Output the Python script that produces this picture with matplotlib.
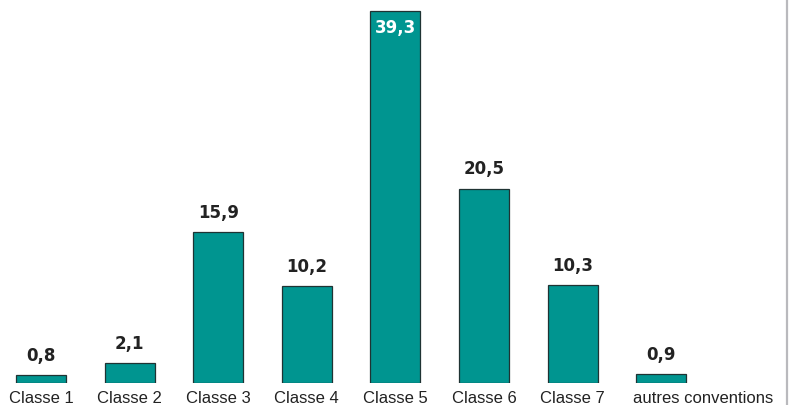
import matplotlib
matplotlib.use("Agg")
import matplotlib.pyplot as plt
from matplotlib.lines import Line2D
from matplotlib.transforms import ScaledTranslation

# part par classe (en %)
classes = ["Classe 1", "Classe 2", "Classe 3", "Classe 4", "Classe 5",
           "Classe 6", "Classe 7", "autres conventions"]
values = [0.8, 2.1, 15.9, 10.2, 39.3, 20.5, 10.3, 0.9]
labels = ["0,8", "2,1", "15,9", "10,2", "39,3", "20,5", "10,3", "0,9"]

TEAL = "#009590"
EDGE = "#1f3333"
INK = "#222222"

W, H = 796, 405
fig = plt.figure(figsize=(W / 100, H / 100), dpi=100)
ax = fig.add_axes([0, 22 / H, 1, 383 / H])

x = range(len(classes))
bars = ax.bar(x, values, width=0.565, color=TEAL, edgecolor=EDGE, lw=0.9)

ax.set_xlim(-41 / 88.6, (W - 41) / 88.6)
ax.set_ylim(0, 383 / 9.47)

for b, v, s in zip(bars, values, labels):
    cx = b.get_x() + b.get_width() / 2
    if v > 35:
        ax.annotate(s, (cx, v), xytext=(0, -12.5), textcoords="offset points",
                    ha="center", va="center", fontsize=12, fontweight="bold",
                    color="white", family="DejaVu Sans")
    else:
        ax.annotate(s, (cx, v), xytext=(0, 14), textcoords="offset points",
                    ha="center", va="center", fontsize=12, fontweight="bold",
                    color=INK, family="DejaVu Sans")

ax.set_xticks(list(x))
ax.set_xticklabels(classes, fontsize=12, family="Liberation Sans", color=INK)
ax.tick_params(axis="x", length=0, pad=5.5)
# last label is long: push it right so it clears "Classe 7"
last = ax.get_xticklabels()[-1]
last.set_transform(last.get_transform() + ScaledTranslation(0.42, 0, fig.dpi_scale_trans))
ax.set_yticks([])
for sp in ax.spines.values():
    sp.set_visible(False)

# thin grey rule on the right
fig.add_artist(Line2D([787 / W, 787 / W], [0, 1], color="#b9b9bd", lw=1.6,
                      transform=fig.transFigure))

fig.savefig("out.png", dpi=100)
